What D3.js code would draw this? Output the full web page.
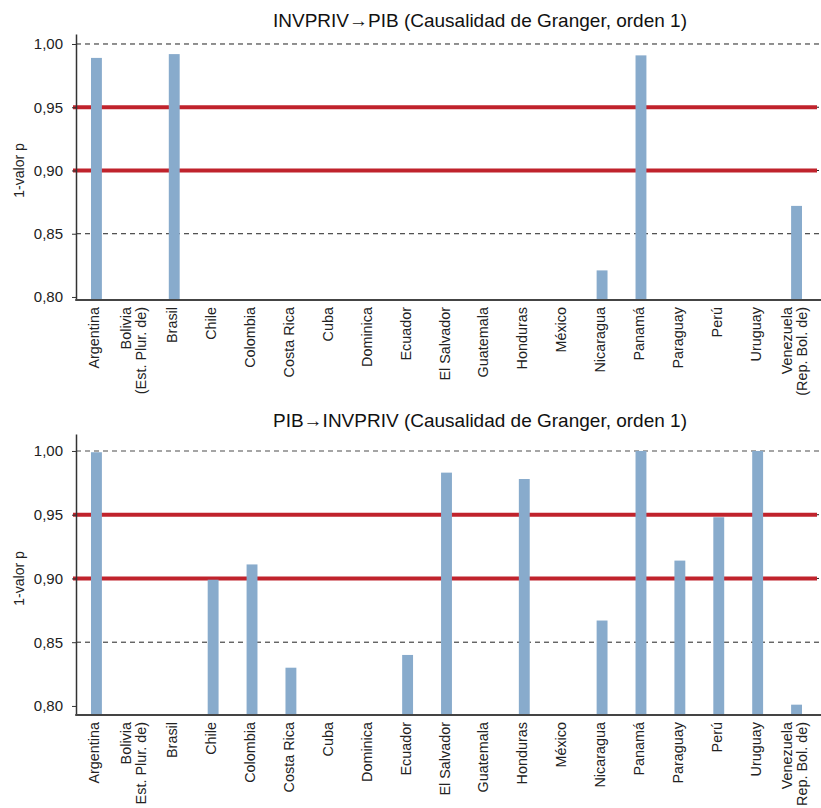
<!DOCTYPE html>
<html>
<head>
<meta charset="utf-8">
<script src="https://cdn.jsdelivr.net/npm/d3@7"></script>
<style>
  html, body { margin: 0; padding: 0; background: #fff; }
  svg { display: block; font-family: "Liberation Sans", Arial, sans-serif; }
</style>
</head>
<body>
<svg id="chart" width="821" height="808"></svg>
<script>
// ---------- DATA ----------
const categories = ["Argentina", "Bolivia", "Brasil", "Chile", "Colombia", "Costa Rica", "Cuba",
  "Dominica", "Ecuador", "El Salvador", "Guatemala", "Honduras", "México", "Nicaragua",
  "Panamá", "Paraguay", "Perú", "Uruguay", "Venezuela"];

const labelsTop = [["Argentina"], ["Bolivia", "(Est. Plur. de)"], ["Brasil"], ["Chile"], ["Colombia"],
  ["Costa Rica"], ["Cuba"], ["Dominica"], ["Ecuador"], ["El Salvador"], ["Guatemala"], ["Honduras"],
  ["México"], ["Nicaragua"], ["Panamá"], ["Paraguay"], ["Perú"], ["Uruguay"], ["Venezuela", "(Rep. Bol. de)"]];

const labelsBottom = [["Argentina"], ["Bolivia", "Est. Plur. de)"], ["Brasil"], ["Chile"], ["Colombia"],
  ["Costa Rica"], ["Cuba"], ["Dominica"], ["Ecuador"], ["El Salvador"], ["Guatemala"], ["Honduras"],
  ["México"], ["Nicaragua"], ["Panamá"], ["Paraguay"], ["Perú"], ["Uruguay"], ["Venezuela", "Rep. Bol. de)"]];

// 1 - p-value, INVPRIV -> PIB (null = below the 0.80 axis floor, not shown)
const valuesTop = [0.989, null, 0.992, null, null, null, null, null, null, null, null, null,
  null, 0.821, 0.991, null, null, null, 0.872];

// 1 - p-value, PIB -> INVPRIV
const valuesBottom = [0.999, null, null, 0.899, 0.911, 0.830, null, null, 0.840, 0.983, null, 0.978,
  null, 0.867, 1.000, 0.914, 0.948, 1.000, 0.801];

const tickValues = [0.80, 0.85, 0.90, 0.95, 1.00];
const tickLabels = ["0,80", "0,85", "0,90", "0,95", "1,00"];
const thresholds = [0.90, 0.95];

const titleTop = "INVPRIV\u2192PIB (Causalidad de Granger, orden 1)";
const titleBottom = "PIB\u2192INVPRIV (Causalidad de Granger, orden 1)";
const yAxisTitle = "1-valor p";

// ---------- DRAW ----------
const svg = d3.select("#chart");
const W = 821;
const axisX = 76;

const x = d3.scaleBand().domain(categories).range([77, 816]).paddingInner(0.72).paddingOuter(0.36);

function panel(opts) {
  const g = svg.append("g");
  const y = d3.scaleLinear().domain(opts.domain).range([opts.bottom, opts.top]);

  // title
  g.append("text").attr("x", 480).attr("y", opts.titleY).attr("text-anchor", "middle")
    .attr("font-size", 19).attr("fill", "#111").text(opts.title);

  // y-axis title
  g.append("text")
    .attr("transform", `translate(19,${(y(0.95) + y(0.85)) / 2}) rotate(-90)`)
    .attr("text-anchor", "middle").attr("dy", "0.35em")
    .attr("font-size", 14).attr("fill", "#222").text(yAxisTitle);

  // dashed gridlines
  g.append("g").selectAll("line").data(tickValues.filter(v => v > 0.80)).join("line")
    .attr("x1", axisX).attr("x2", W)
    .attr("y1", d => y(d)).attr("y2", d => y(d))
    .attr("stroke", d => (d === 1.00 && opts.greyTop) ? "#888" : "#222")
    .attr("stroke-width", d => (d === 1.00 && opts.greyTop) ? 1.6 : 1)
    .attr("stroke-dasharray", "5,4");

  // threshold red lines
  g.append("g").selectAll("line").data(thresholds).join("line")
    .attr("x1", axisX - 3).attr("x2", 817)
    .attr("y1", d => y(d)).attr("y2", d => y(d))
    .attr("stroke", "#c0232c").attr("stroke-width", 4);

  // bars
  const data = categories.map((c, i) => ({ c, v: opts.values[i] })).filter(d => d.v != null);
  g.append("g").selectAll("rect").data(data).join("rect")
    .attr("x", d => x(d.c))
    .attr("width", x.bandwidth())
    .attr("y", d => y(d.v))
    .attr("height", d => y(opts.domain[0]) - y(d.v))
    .attr("fill", "#88abcc");

  // y axis
  const yAxis = d3.axisLeft(y).tickValues(tickValues)
    .tickFormat((d, i) => tickLabels[i]).tickSize(4).tickSizeOuter(0).tickPadding(9);
  const ya = g.append("g").attr("transform", `translate(${axisX},0)`).call(yAxis);
  ya.select(".domain").attr("stroke", "#333").attr("stroke-width", 1.5);
  ya.selectAll(".tick line").attr("stroke", "#333");
  ya.selectAll(".tick text").attr("font-size", 15).attr("fill", "#222")
    .attr("font-family", "Liberation Sans, Arial, sans-serif");

  // x axis
  const xAxis = d3.axisBottom(x).tickSize(0).tickFormat("");
  const xa = g.append("g").attr("transform", `translate(0,${opts.bottom})`).call(xAxis);
  xa.select(".domain").remove();
  g.append("line").attr("x1", axisX - 0.75).attr("x2", W)
    .attr("y1", opts.bottom).attr("y2", opts.bottom)
    .attr("stroke", "#444").attr("stroke-width", 2);

  // x tick labels (rotated)
  xa.selectAll(".tick").each(function (d, i) {
    const lines = opts.labels[i];
    const t = d3.select(this).append("text")
      .attr("transform", `translate(-2,7) rotate(-90)`)
      .attr("text-anchor", "end")
      .attr("font-size", 14.4).attr("fill", "#222")
      .attr("font-family", "Liberation Sans, Arial, sans-serif");
    const n = lines.length;
    lines.forEach((ln, k) => {
      t.append("tspan").attr("x", 0)
        .attr("y", 0)
        .attr("dy", ((k - (n - 1) / 2) * 1.05 + 0.35) + "em")
        .text(ln);
    });
  });
}

panel({
  title: titleTop, titleY: 27, top: 34, bottom: 300,
  domain: [0.7976, 1.0079], values: valuesTop, labels: labelsTop, greyTop: false
});

panel({
  title: titleBottom, titleY: 427, top: 434, bottom: 715,
  domain: [0.7929, 1.0133], values: valuesBottom, labels: labelsBottom, greyTop: true
});
</script>
</body>
</html>
